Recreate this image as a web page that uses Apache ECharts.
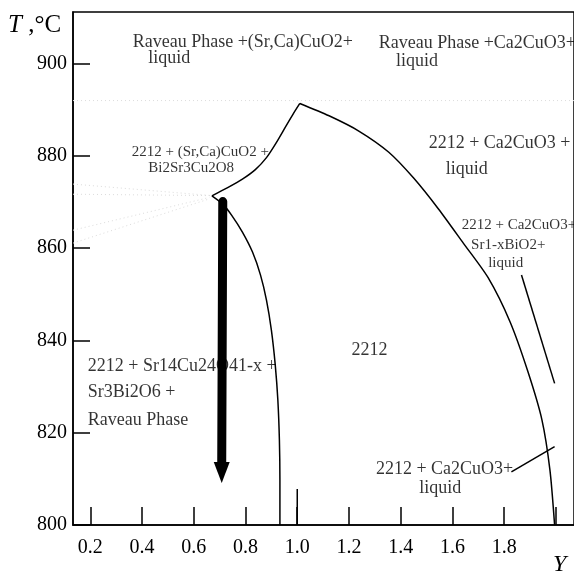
<!DOCTYPE html>
<html><head><meta charset="utf-8">
<script src="https://cdn.jsdelivr.net/npm/echarts@6/dist/echarts.min.js"></script>
<style>html,body{margin:0;padding:0;background:#fff}#c{width:574px;height:572px}</style>
</head><body><div id="c"></div>
<script>
// ---- data ----
const xTicks = [0.2, 0.4, 0.6, 0.8, 1.0, 1.2, 1.4, 1.6, 1.8, 2.0];
const xTickLabels = [0.2, 0.4, 0.6, 0.8, 1.0, 1.2, 1.4, 1.6, 1.8];
const yTicks = [800, 820, 840, 860, 880, 900];
const longTick = [[1.0, 800], [1.0, 807.8]];
const curveAB = [[0.670, 871.35], [0.731, 873.13], [0.788, 874.97], [0.838, 877.03], [0.881, 879.63], [0.919, 882.88], [0.954, 886.24], [0.985, 889.17], [1.010, 891.38]];
const curveRight = [[1.010, 891.38], [1.123, 888.7], [1.238, 885.4], [1.354, 880.8], [1.450, 875.2], [1.546, 868.5], [1.642, 861.1], [1.738, 853.6], [1.823, 844.0], [1.892, 833.2], [1.946, 822.8], [1.977, 811.9], [1.995, 800]];
const curveLeft = [[0.670, 871.35], [0.712, 869.56], [0.746, 867.18], [0.788, 863.49], [0.827, 859.16], [0.858, 854.17], [0.881, 848.75], [0.900, 842.25], [0.915, 834.67], [0.925, 827.09], [0.931, 818.42], [0.933, 809.75], [0.933, 800]];
const segUpper = [[1.867, 854.2], [1.995, 830.7]];
const segLower = [[1.828, 811.5], [1.995, 817.0]];
const arrow = [[0.712, 870.1, 0.708, 809.1]];
const faintLines = [
  [[0.133, 873.9], [0.670, 871.4]],
  [[0.133, 871.7], [0.670, 871.4]],
  [[0.133, 863.9], [0.660, 871.0]],
  [[0.133, 861.1], [0.655, 870.6]],
  [[0.133, 892.0], [2.07, 892.0]]
];
const bigLabels = [
  ['Raveau Phase +(Sr,Ca)CuO2+', 0.364, 904.7],
  ['liquid', 0.424, 901.1],
  ['Raveau Phase +Ca2CuO3+', 1.315, 904.4],
  ['liquid', 1.382, 900.5],
  ['2212 + Ca2CuO3 +', 1.508, 882.7],
  ['liquid', 1.574, 877.1],
  ['2212', 1.210, 837.9],
  ['2212 + Sr14Cu24O41-x +', 0.190, 834.3],
  ['Sr3Bi2O6 +', 0.190, 828.7],
  ['Raveau Phase', 0.190, 822.6],
  ['2212 + Ca2CuO3+', 1.304, 812.0],
  ['liquid', 1.472, 808.0]
];
const smallLabels = [
  ['2212 + (Sr,Ca)CuO2 +', 0.360, 880.9],
  ['Bi2Sr3Cu2O8', 0.424, 877.3],
  ['2212 + Ca2CuO3+', 1.636, 865.0],
  ['Sr1-xBiO2+', 1.672, 860.7],
  ['liquid', 1.738, 856.7]
];

// ---- chart ----
const FONT = 'Liberation Serif';
const chart = echarts.init(document.getElementById('c'), null, {renderer: 'canvas'});
const lineStyle = {color: '#000', width: 1.5};
function curve(data, smooth) {
  return {type: 'line', data: data, smooth: smooth, symbol: 'none', silent: true,
    lineStyle: lineStyle, z: 3, animation: false};
}
function labelSeries(arr, size) {
  return {type: 'scatter', symbolSize: 0, silent: true, animation: false, z: 5,
    data: arr.map(d => ({value: [d[1], d[2]], name: d[0]})),
    label: {show: true, position: [0, 0], align: 'left', verticalAlign: 'middle',
      formatter: p => p.name, fontFamily: FONT, fontSize: size, color: '#000'}};
}
const series = [
  curve(curveAB, 0.25), curve(curveRight, 0.25), curve(curveLeft, 0.25),
  curve(segUpper, false), curve(segLower, false), curve(longTick, false)
];
faintLines.forEach(l => series.push({type: 'line', data: l, symbol: 'none', silent: true, animation: false, z: 1,
  lineStyle: {color: '#dcdcdc', width: 1, type: [1, 3]}}));
series.push({
  type: 'custom', silent: true, animation: false, z: 4, data: arrow,
  encode: {x: [0, 2], y: [1, 3]},
  renderItem: function (params, api) {
    const p1 = api.coord([api.value(0), api.value(1)]);
    const p2 = api.coord([api.value(2), api.value(3)]);
    const head = 21, hw = 8;
    return {type: 'group', children: [
      {type: 'line', shape: {x1: p1[0], y1: p1[1], x2: p2[0], y2: p2[1] - head + 2},
        style: {stroke: '#000', lineWidth: 9, lineCap: 'round'}},
      {type: 'polygon', shape: {points: [[p2[0] - hw, p2[1] - head], [p2[0] + hw, p2[1] - head], [p2[0], p2[1]]]},
        style: {fill: '#000'}}
    ]};
  }
});
series.push(labelSeries(bigLabels, 18));
series.push(labelSeries(smallLabels, 15));

chart.setOption({
  animation: false,
  backgroundColor: '#fff',
  grid: {left: 73, top: 12, width: 503.6, height: 513, show: true, borderColor: '#000', borderWidth: 1.5, backgroundColor: 'transparent'},
  xAxis: {
    type: 'value', min: 0.133, max: 2.07,
    axisLine: {show: true, onZero: false, lineStyle: lineStyle},
    axisTick: {show: true, inside: true, length: 18, customValues: xTicks, lineStyle: lineStyle},
    axisLabel: {customValues: xTickLabels, formatter: v => Number(v).toFixed(1), fontFamily: FONT, fontSize: 20, color: '#000', margin: 13},
    splitLine: {show: false}
  },
  yAxis: {
    type: 'value', min: 800, max: 911.2,
    axisLine: {show: true, onZero: false, lineStyle: lineStyle},
    axisTick: {show: true, inside: true, length: 17, customValues: yTicks, lineStyle: lineStyle},
    axisLabel: {customValues: yTicks, formatter: v => String(v), fontFamily: FONT, fontSize: 20, color: '#000', margin: 6},
    splitLine: {show: false}
  },
  graphic: [
    {type: 'text', left: 8, top: 13, style: {text: '{i|T} ,°C', fontFamily: FONT, fontSize: 25, fill: '#000',
      rich: {i: {fontStyle: 'italic', fontFamily: FONT, fontSize: 25}}}},
    {type: 'text', left: 553, top: 553, style: {text: 'Y', fontFamily: FONT, fontStyle: 'italic', fontSize: 24, fill: '#000'}}
  ],
  series: series
});
</script></body></html>
